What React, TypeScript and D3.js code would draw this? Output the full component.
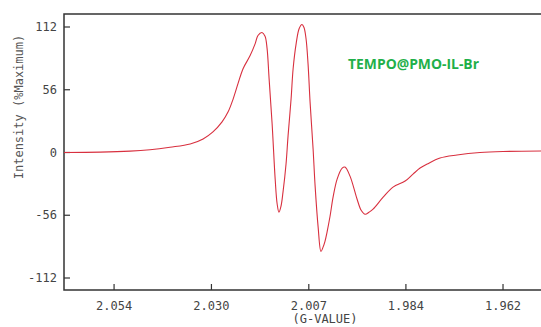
import React, { useEffect, useRef } from 'react';
import * as d3 from 'd3';

// magnetic field (mT) and intensity (% of maximum)
const field = [
  326.04, 327.47, 328.65, 329.44, 330.23, 331.03, 331.54, 331.93, 332.29, 332.53,
  332.73, 332.92, 333.12, 333.40, 333.60, 333.71, 333.87, 333.99, 334.07, 334.15,
  334.27, 334.39, 334.47, 334.54, 334.62, 334.70, 334.82, 334.90, 335.02, 335.10,
  335.22, 335.34, 335.45, 335.53, 335.61, 335.69, 335.77, 335.89, 335.97, 336.09,
  336.20, 336.28, 336.36, 336.44, 336.56, 336.68, 336.84, 337.04, 337.15, 337.35,
  337.63, 337.79, 337.95, 338.10, 338.26, 338.66, 339.05, 339.53, 339.84, 340.12,
  340.40, 340.91, 341.58, 342.49, 343.40, 345.06,
];
const intensity = [
  0, 0.3, 1.2, 2.5, 4.7, 7.6, 12.1, 18.4, 27.3, 36.3,
  47.9, 61.4, 74.8, 86.5, 97.2, 104.4, 107.1, 103.7, 92.9, 65.9,
  25.5, -23.7, -46.2, -53.3, -48.0, -35.4, -10.3, 14.8, 47.9, 74.8,
  97.2, 110.7, 114.2, 111.5, 101.7, 79.3, 45.2, 3.1, -30.0, -66.8,
  -88.3, -84.7, -79.3, -71.2, -56.9, -39.9, -23.7, -13.9, -13.0, -21.1,
  -41.7, -51.5, -55.1, -53.3, -50.6, -39.9, -30.9, -25.5, -19.3, -13.9,
  -10.3, -4.9, -2.2, 0, 0.9, 1.3,
];

const yTicks = [112, 56, 0, -56, -112];
const xTickField = [328.02, 331.87, 335.72, 339.56, 343.4];
const xTickLabels = ['2.054', '2.030', '2.007', '1.984', '1.962'];

const W = 541;
const H = 327;

const App = () => {
  const svgRef = useRef<SVGSVGElement>(null);

  useEffect(() => {
    const svg = d3.select(svgRef.current);
    svg.selectAll('*').remove();

    const left = 64, top = 14, bottom = 290, right = 545;
    const mono = '"DejaVu Sans Mono", monospace';

    const x = d3.scaleLinear().domain([326.04, 345.06]).range([left, right]);
    const y = d3.scaleLinear().domain([-112, 112]).range([278, 27]);

    // frame
    svg.append('path')
      .attr('d', `M${right},${top}H${left}V${bottom}H${right}`)
      .attr('fill', 'none')
      .attr('stroke', '#333')
      .attr('stroke-width', 1.5);

    // y ticks
    yTicks.forEach(t => {
      svg.append('line')
        .attr('x1', left).attr('x2', left + 6)
        .attr('y1', y(t)).attr('y2', y(t))
        .attr('stroke', '#333').attr('stroke-width', 1.2);
      svg.append('text')
        .attr('x', 57).attr('y', y(t))
        .attr('dy', '0.35em')
        .attr('text-anchor', 'end')
        .attr('font-family', mono)
        .attr('font-size', 12)
        .attr('fill', '#444')
        .text(t);
    });

    // x ticks
    xTickField.forEach((f, i) => {
      svg.append('line')
        .attr('x1', x(f)).attr('x2', x(f))
        .attr('y1', bottom).attr('y2', bottom - 6)
        .attr('stroke', '#333').attr('stroke-width', 1.2);
      svg.append('text')
        .attr('x', x(f)).attr('y', 310)
        .attr('text-anchor', 'middle')
        .attr('font-family', mono)
        .attr('font-size', 12)
        .attr('fill', '#444')
        .text(xTickLabels[i]);
    });

    svg.append('text')
      .attr('x', 325).attr('y', 323)
      .attr('text-anchor', 'middle')
      .attr('font-family', mono)
      .attr('font-size', 12)
      .attr('fill', '#444')
      .text('(G-VALUE)');

    svg.append('text')
      .attr('transform', 'translate(23,107) rotate(-90)')
      .attr('text-anchor', 'middle')
      .attr('font-family', mono)
      .attr('font-size', 12)
      .attr('fill', '#555')
      .text('Intensity (%Maximum)');

    // spectrum
    const line = d3.line<number>()
      .x((d, i) => x(field[i]))
      .y(d => y(d))
      .curve(d3.curveCatmullRom.alpha(0.5));

    svg.append('path')
      .datum(intensity)
      .attr('d', line)
      .attr('fill', 'none')
      .attr('stroke', '#d8303f')
      .attr('stroke-width', 1.1);

    svg.append('text')
      .attr('x', 348).attr('y', 69)
      .attr('font-family', '"Open Sans", sans-serif')
      .attr('font-weight', 'bold')
      .attr('font-size', 14.5)
      .attr('textLength', 131)
      .attr('lengthAdjust', 'spacingAndGlyphs')
      .attr('fill', '#1fb04a')
      .text('TEMPO@PMO-IL-Br');
  }, []);

  return (
    <svg
      ref={svgRef}
      width={W}
      height={H}
      style={{ position: 'absolute', left: 0, top: 0, background: '#fff' }}
    />
  );
};

export default App;
